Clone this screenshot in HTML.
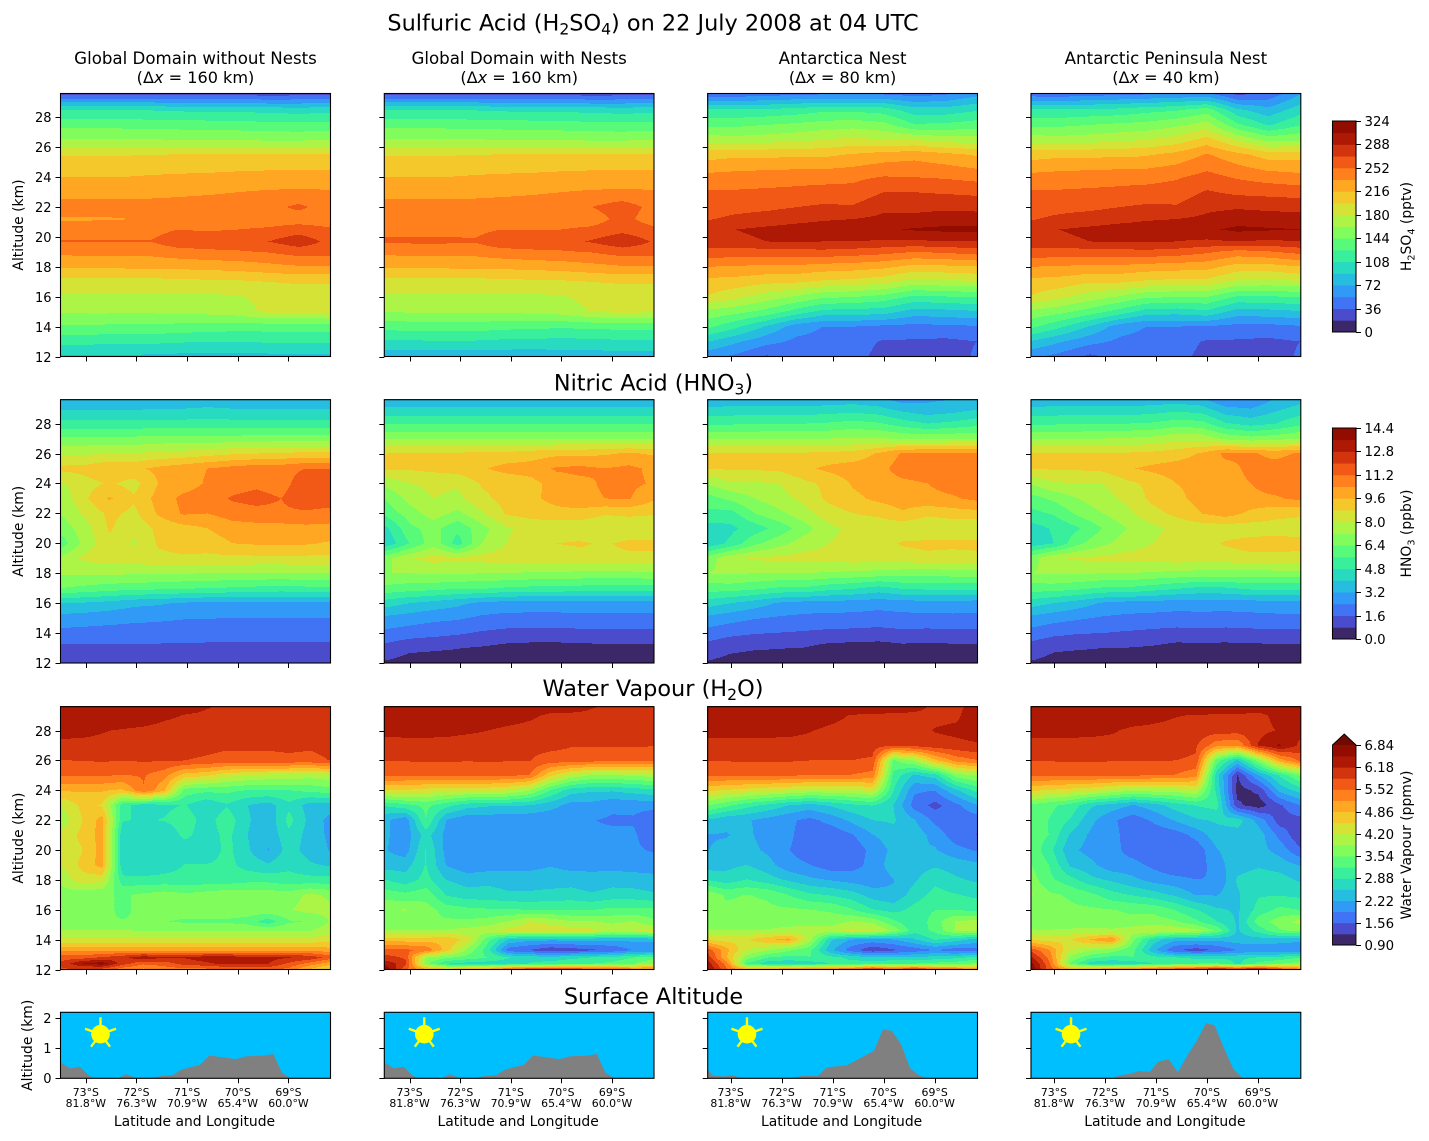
<!DOCTYPE html>
<html lang="en">
<head>
<meta charset="utf-8">
<title>Sulfuric Acid, Nitric Acid and Water Vapour cross-sections</title>
<style>
html,body{margin:0;padding:0;background:#fff;}
svg{display:block;}
text{font-family:"DejaVu Sans","Liberation Sans",sans-serif;fill:#000;}
</style>
</head>
<body>
<svg id="figure" xmlns="http://www.w3.org/2000/svg" width="1429" height="1141" viewBox="0 0 1429 1141">
<rect width="1429" height="1141" fill="#fff"/>
<text x="653" y="30.5" text-anchor="middle" font-size="22.4">Sulfuric Acid (H<tspan dy="4" font-size="15.6">2</tspan><tspan dy="-4">SO</tspan><tspan dy="4" font-size="15.6">4</tspan><tspan dy="-4">) on 22 July 2008 at 04 UTC</tspan></text>
<text x="653.5" y="390.5" text-anchor="middle" font-size="22.3">Nitric Acid (HNO<tspan dy="4" font-size="15.5">3</tspan><tspan dy="-4">)</tspan></text>
<text x="653" y="696" text-anchor="middle" font-size="22.4">Water Vapour (H<tspan dy="4" font-size="15.6">2</tspan><tspan dy="-4">O)</tspan></text>
<text x="653.5" y="1004" text-anchor="middle" font-size="22.3">Surface Altitude</text>
<g id="panels"></g>
<g id="colorbars"></g>
</svg>
<script>
const domainTitles = ['Global Domain without Nests','Global Domain with Nests','Antarctica Nest','Antarctic Peninsula Nest'];
const domainResolutions = ['160','160','80','40'];
const xTickLats = [73,72,71,70,69];
const latTickLabels = ['73°S','72°S','71°S','70°S','69°S'];
const lonTickLabels = ['81.8°W','76.3°W','70.9°W','65.4°W','60.0°W'];
const altTicks = [12,14,16,18,20,22,24,26,28];
const surfaceTicks = [0,1,2];

const levelsH2SO4 = [0,18,36,54,72,90,108,126,144,162,180,198,216,234,252,270,288,306,324];
const levelsHNO3 = [0,0.8,1.6,2.4,3.2,4,4.8,5.6,6.4,7.2,8,8.8,9.6,10.4,11.2,12,12.8,13.6,14.4];
const levelsH2O = [0.9,1.23,1.56,1.89,2.22,2.55,2.88,3.21,3.54,3.87,4.2,4.53,4.86,5.19,5.52,5.85,6.18,6.51,6.84];
const cbarTicksH2SO4 = [0,36,72,108,144,180,216,252,288,324];
const cbarTicksHNO3 = [0,1.6,3.2,4.8,6.4,8,9.6,11.2,12.8,14.4];
const cbarTicksH2O = [0.9,1.56,2.22,2.88,3.54,4.2,4.86,5.52,6.18,6.84];

const latsH2SO4 = [73.5,72.9,72.3,71.7,71.2,70.6,70,69.4,68.8,68.17];
const altsH2SO4 = [12,13,14,15,16,17,18,19,19.7,20.5,21.2,22,23,24,25.5,26.5,27.5,28.5,29.6];
const latsHNO3 = [73.5,73,72.53,72.05,71.57,71.08,70.6,70.1,69.63,69.14,68.66,68.17];
const altsHNO3 = [12,13,14,15,16,17,18,19,20,21,22,23,24,25,26,27,28,29,29.6];
const latsH2O = [73.5,73.09,72.68,72.27,71.86,71.45,71.04,70.63,70.22,69.81,69.4,68.99,68.58,68.17];
const altsH2O = [12,12.4,12.8,13.3,14,14.6,15.2,16,17,18,19,20,21,22,23,24,25,26,27,28,29,29.6];

const h2so4Global = [
[88,88,88,86,85,84,84,85,86,86],
[113,113,112,112,110,108,108,110,110,110],
[141,141,140,140,138,136,134,134,135,136],
[164,165,165,165,166,168,172,184,184,184],
[176,176,176,176,176,177,178,186,187,187],
[191,191,191,191,193,194,195,198,200,200],
[219,219,219,220,220,222,224,228,232,232],
[238,240,240,240,245,248,250,253,260,260],
[253,253,253,253,262,264,263,270,281,265],
[246,246,246,246,252,250,252,255,262,255],
[232,232,233,238,240,240,240,241,242,240],
[243,243,243,242,242,242,242,246,256,243],
[226,226,226,228,230,232,234,236,237,236],
[216,216,216,218,219,220,222,223,223,223],
[197,197,197,198,199,199,199,200,200,200],
[163,163,163,163,162,162,161,160,160,161],
[138,138,138,136,136,135,134,132,131,132],
[108,108,108,107,105,104,104,102,100,102],
[30,30,30,30,30,30,30,25,28,30]];
const h2so4GlobalNested = [
[78,78,78,78,78,78,80,80,82,82],
[104,106,106,106,104,103,102,103,105,105],
[133,134,135,135,132,130,129,130,132,132],
[163,164,164,164,165,167,170,181,184,182],
[176,176,176,176,176,177,178,186,187,187],
[191,191,191,191,193,194,195,198,200,200],
[219,219,219,220,220,222,224,228,232,232],
[238,240,240,240,245,248,250,253,260,260],
[255,255,255,254,264,265,264,272,284,268],
[246,247,247,247,252,251,252,256,264,256],
[238,238,238,238,240,241,242,243,258,243],
[243,243,243,242,242,242,243,252,262,246],
[226,226,226,228,230,232,234,236,237,236],
[216,216,216,218,219,220,222,223,223,223],
[197,197,197,198,199,199,199,200,200,200],
[163,163,163,163,162,162,161,160,160,161],
[138,138,138,136,136,135,134,132,131,132],
[108,108,108,107,105,104,104,102,100,102],
[30,30,30,30,30,30,30,25,28,30]];
const h2so4Antarctica = [
[60,50,34,40,44,42,30,30,28,38],
[92,75,60,50,48,44,34,34,32,36],
[132,112,88,62,54,54,50,48,50,52],
[158,150,138,118,102,100,98,82,84,88],
[198,185,172,160,148,145,138,122,125,128],
[210,208,202,200,195,192,186,172,175,178],
[234,232,230,230,226,224,220,210,212,215],
[266,262,262,263,265,262,258,252,255,260],
[278,284,288,290,288,288,286,285,288,288],
[280,288,292,296,297,298,303,308,310,310],
[268,274,278,282,286,288,292,294,298,298],
[262,264,266,270,273,272,284,282,284,282],
[254,254,255,256,258,258,270,270,268,266],
[240,242,244,246,246,248,253,252,250,246],
[208,212,212,212,212,218,224,228,222,214],
[172,170,172,176,180,185,180,180,172,170],
[140,140,144,148,152,155,150,128,130,135],
[110,110,112,116,122,122,118,98,98,106],
[40,40,44,48,50,50,50,45,50,65]];
const h2so4Peninsula = [
[58,48,32,42,42,42,30,30,28,38],
[90,74,60,50,48,44,34,34,32,36],
[132,112,88,62,54,54,52,48,48,52],
[158,150,136,118,100,98,104,82,84,88],
[198,185,172,160,148,145,145,124,124,128],
[210,208,200,200,195,192,192,176,174,178],
[234,232,230,230,226,224,222,208,208,215],
[266,262,262,263,265,262,255,245,250,258],
[278,284,288,290,290,288,285,288,285,288],
[280,288,292,296,297,298,303,310,308,306],
[268,274,278,282,286,288,292,298,296,296],
[262,264,266,270,273,272,284,286,284,282],
[254,254,255,256,258,260,272,266,264,262],
[240,242,244,246,246,250,258,250,244,240],
[208,212,212,212,214,222,236,222,208,208],
[172,170,172,176,180,188,205,178,156,160],
[140,140,144,148,150,158,170,130,106,125],
[110,110,112,114,120,124,136,94,78,100],
[42,40,44,48,50,54,56,30,40,70]];

const hno3Global = [
[1.2,1.1,1,0.78,0.78,0.78,0.8,1,1,1,1,1],
[1.4,1.4,1.42,1.45,1.45,1.45,1.42,1.42,1.42,1.42,1.42,1.42],
[2.15,2.1,2.05,2,1.95,1.9,1.9,1.9,1.9,1.9,1.9,1.9],
[2.9,2.8,2.7,2.6,2.55,2.45,2.42,2.4,2.4,2.4,2.4,2.4],
[4,3.9,3.7,3.4,3.3,3.1,3,3,3,3,3,3],
[6.4,6.2,6,5.9,5.8,5.7,5.6,5.5,5.4,5.3,5.4,5.4],
[7.3,7.3,7.35,7.3,7.3,7.25,7.2,7.2,7.15,7.15,7.2,7.2],
[7.4,8.2,8.4,8.4,8.6,8.7,8.6,8.6,8.6,8.6,8.6,8.6],
[5.9,7.6,8.6,7.9,8.9,9.1,9.2,9.6,9.7,9.7,9.7,9.5],
[6.7,7.7,8.9,8.2,9,9.3,9.6,10,10.1,10.1,10.2,10.2],
[7.2,8.2,9,8.6,9.7,10.5,10.4,10.8,10.9,11,11,10.8],
[7.4,8.7,9.7,8.9,9.9,10.6,10.8,11.3,11.5,11.2,12,11.8],
[7.9,8.5,8.9,8.5,9.6,10,10.5,10.8,11,10.8,11.8,11.7],
[9,9.1,9.5,9.4,9.8,10.1,10.4,10.7,10.9,10.9,11.2,11.2],
[7.9,7.9,8,8,8.2,8.3,8.5,8.7,8.8,8.9,9,9],
[6.6,6.6,6.6,6.6,6.7,6.7,6.7,6.7,6.8,6.8,6.8,6.8],
[5.1,5.1,5.1,5.1,5.1,5.1,5.1,5.1,5.1,5.1,5.1,5.1],
[3.9,3.9,3.9,3.9,4,4,4.1,4,4,4,4,4],
[3.3,3.3,3.3,3.3,3.4,3.4,3.5,3.4,3.4,3.4,3.4,3.4]];
const hno3GlobalNested = [
[0.7,0.5,0.5,0.5,0.4,0.4,0.4,0.4,0.4,0.4,0.4,0.4],
[1.35,0.95,0.88,0.82,0.72,0.55,0.5,0.5,0.5,0.6,0.58,0.55],
[2.2,2,1.85,1.7,1.5,1.35,1.3,1.3,1.35,1.4,1.4,1.4],
[3,2.8,2.6,2.5,2.25,2.15,2.15,2.15,2.2,2.2,2.2,2.2],
[4.4,4,3.7,3.4,3,2.85,2.8,2.8,2.8,2.8,2.8,2.8],
[6.2,6,5.9,5.7,5.7,5.5,5.4,5.4,5.3,5.2,5.2,5.2],
[7.2,7.2,7.3,7.3,7.2,7.2,7.1,7.1,7,7,7,7.1],
[6.9,7.9,8.3,8.2,8.3,8.4,8.4,8.5,8.5,8.6,8.6,8.6],
[4.1,5.6,6.9,5.2,7.2,8,8.4,8.8,8.9,8.7,9,9],
[4.5,6.2,6.7,5.8,6.9,7.9,8.3,8.2,8.2,8,8.1,8],
[5.8,6.8,7.6,7,7.9,8.9,9.1,9.3,9.3,8.9,9,8.9],
[6.4,7.5,8,7.8,8.6,9.1,9.4,9.9,10.2,10.4,10.45,9.7],
[7.4,8,8.2,8.1,8.9,9,9.3,10,10.2,10.5,10.6,10.3],
[8.9,8.9,9,9.2,9.5,9.9,10,10.5,10.6,10.4,10.6,10.2],
[8.8,8.85,8.9,8.9,9,9,9.2,9.4,9.4,9.5,9.7,9.5],
[7.1,7.1,7.1,7.1,7.1,7.1,7.1,7.1,7.1,7.1,7.1,7.1],
[5.6,5.6,5.6,5.6,5.6,5.6,5.6,5.6,5.6,5.6,5.6,5.6],
[4.1,4.1,4.1,4.1,4.1,4.1,4.1,4.1,4.1,4.1,4.1,4.1],
[3.5,3.5,3.5,3.5,3.5,3.5,3.5,3.5,3.5,3.5,3.5,3.5]];
const hno3Antarctica = [
[0.75,0.55,0.5,0.5,0.4,0.4,0.4,0.4,0.4,0.4,0.4,0.4],
[1.25,0.95,0.85,0.82,0.78,0.5,0.45,0.4,0.55,0.5,0.55,0.55],
[2.1,1.8,1.65,1.58,1.5,1.4,1.35,1.3,1.4,1.35,1.4,1.4],
[3,2.7,2.45,2.3,2.2,2.15,2.15,2.05,2.15,2.15,2.2,2.2],
[4.4,4,3.6,3.1,2.9,2.85,2.8,2.7,2.8,2.85,2.85,2.8],
[6,6,5.8,5.5,5.5,5.1,4.9,4.5,4.9,5,5,5],
[7.2,7.3,7.2,7.2,7.2,7.1,7,6.9,6.8,6.7,6.8,6.9],
[6.7,7.8,8.1,8.2,8.3,8.3,8.4,8.4,8.4,8.6,8.5,8.6],
[4.1,5,6.2,6.9,7.6,8,8.2,8.5,8.9,9,9,9],
[4.4,4.6,5.2,5.9,6.8,7.8,8.2,8.2,8.2,8,8.1,8],
[5.4,5.3,6.4,7,7.7,8.4,8.8,9,9.5,9,9.2,9.3],
[6,6.6,7.2,7.7,8.2,9,9.4,9.8,10,10.2,10.3,10.6],
[7.2,7.9,7.9,8,8.6,9,9.7,10,10.2,10.4,10.7,10.6],
[8.8,8.9,8.9,9,9.4,9.8,10,10.1,10.8,10.9,10.9,10.9],
[8.8,8.9,8.9,8.9,8.9,9,9.1,9.7,10.5,10.6,10.6,10.6],
[7.1,7.1,7.1,7.2,7.2,7.2,7.3,7.3,7.1,7,7.1,7.1],
[5.5,5.5,5.6,5.6,5.6,5.7,5.9,5.7,5.2,4.8,5,5.3],
[4.1,4.2,4.2,4.2,4.2,4.3,4.4,4.2,3.7,3.4,3.6,3.9],
[3.4,3.5,3.5,3.5,3.5,3.5,3.6,3.4,2.9,3.1,3.2,3.4]];
const hno3Peninsula = [
[0.75,0.55,0.5,0.5,0.4,0.4,0.4,0.4,0.4,0.4,0.4,0.4],
[1.25,0.9,0.85,0.8,0.78,0.7,0.5,0.5,0.5,0.55,0.55,0.55],
[2.1,1.8,1.65,1.6,1.5,1.4,1.3,1.35,1.3,1.35,1.4,1.4],
[3,2.7,2.5,2.3,2.2,2.15,2.1,2.1,2.1,2.15,2.2,2.2],
[4.4,4,3.6,3.1,2.9,2.85,2.75,2.8,2.75,2.8,2.85,2.85],
[6,6,5.8,5.5,5.5,5.2,4.9,4.6,4.7,5,5,5],
[7.2,7.3,7.3,7.2,7.2,7.1,7,6.9,6.9,6.8,6.9,6.9],
[6.7,7.9,8.1,8.2,8.3,8.3,8.4,8.4,8.4,8.6,8.6,8.6],
[4.2,4.8,6.2,7,7.6,8,8.3,8.5,8.9,9.1,9.1,9],
[4.4,4.9,5.5,6.4,7.2,7.8,8.2,8.3,8.3,8.4,8.5,8.5],
[5.3,5.7,6.6,7.2,7.8,8.5,9,9.6,10,9.4,9,8.9],
[6,6.6,7.2,7.7,8.2,9,9.4,9.9,10.2,10.2,10.3,10.6],
[7.2,7.9,8,8,8.6,9,9.6,9.8,10.1,10.4,10.8,10.7],
[8.8,8.9,8.9,9,9.5,9.8,10,10.1,10.1,10.6,10.7,10.8],
[8.8,8.9,8.9,8.9,8.9,9,9.2,9.7,10.6,10.5,10.2,10.5],
[7.1,7.1,7.1,7.2,7.3,7.4,7.8,7.7,7,6.7,6.9,7.2],
[5.5,5.5,5.6,5.6,5.6,5.7,6,5.9,4.9,4.5,4.8,5.4],
[4.1,4.2,4.2,4.2,4.2,4.3,4.5,4.3,3.4,3.2,3.8,4.3],
[3.4,3.5,3.5,3.5,3.5,3.5,3.6,3.4,2.4,2.5,3.3,3.7]];

const h2oGlobal = [
[5.8,5.8,5.7,5.3,5.1,5.3,5.4,5.4,5.5,5.4,5.6,5.4,4.8,4.4],
[5.9,6.5,6.7,6,5.6,5.7,6,6.1,6.3,6.3,6.2,5.8,5.4,5],
[5.7,5.7,5.9,6.1,6.4,6.2,6.2,6.4,6.4,6.3,6.3,6.2,6.1,5.7],
[5.1,5.1,5.1,5.1,5.1,5.1,5.1,5.1,5.1,5.1,5.1,5.1,5.1,5],
[4.3,4.3,4.3,4.3,4.3,4.3,4.3,4.3,4.3,4.3,4.3,4.3,4.3,4.4],
[3.9,3.9,3.9,3.9,3.85,3.85,3.85,3.85,3.85,3.85,3.85,3.85,3.85,4.1],
[3.55,3.55,3.55,3.55,3.55,3.55,3.5,3.5,3.5,3.4,3,3.5,3.55,3.9],
[3.9,3.7,3.6,3.5,3.6,3.65,3.65,3.7,3.7,3.75,3.8,3.85,4,3.95],
[3.7,3.65,3.6,3.5,3.6,3.7,3.6,3.7,3.8,3.75,3.75,3.7,3.95,3.8],
[3.95,4.4,4.3,3,3,3,3,3,3,3.1,3.1,3,3,3],
[4.2,4.6,5,2.6,2.55,2.7,2.9,2.9,3,2.75,2.6,2.8,2.6,2.5],
[4.4,4.5,5,2.6,2.55,2.6,2.6,2.55,3,2.6,2.2,2.7,2.4,2.2],
[4.3,4.6,5,2.6,2.7,2.55,3,2.65,3,2.55,2.3,2.8,2.4,2.15],
[3.95,4.5,5,2.9,2.85,2.9,3.1,2.7,3.1,2.6,2.3,3,2.45,2.1],
[4.2,4.6,4.5,3,2.7,2.8,2.9,2.6,2.85,2.55,2.4,2.8,2.4,2.4],
[4.9,4.9,4.9,4.8,5.5,4.9,3.4,3.3,3.3,3.2,3.2,3.2,3.3,3.4],
[5.55,5.55,5.55,5.5,5.55,5.3,4.7,4.6,4.3,4.2,4.1,4.1,4,4.1],
[5.84,5.86,5.88,5.86,5.88,5.88,5.85,5.8,5.75,5.75,5.75,5.75,5.75,5.86],
[6.1,6.1,6.1,6.1,6.05,6.05,6,5.95,5.9,5.9,5.9,5.95,5.9,5.95],
[6.28,6.26,6.2,6.15,6.1,6.05,6.05,6.05,6,6,6,6,6,6],
[6.44,6.44,6.44,6.44,6.4,6.25,6.16,6.14,6.12,6.1,6.1,6.1,6.1,6.1],
[6.5,6.5,6.5,6.5,6.45,6.4,6.3,6.2,6.14,6.12,6.12,6.12,6.1,6.1]];
const h2oGlobalNested = [
[6.9,5.6,5,4.8,5,5.2,5.9,6.1,6.1,6.1,5.9,5.8,5.5,5.4],
[6.4,6,3.7,2.9,2.75,2.7,2.7,2.9,3,3.1,3.2,3.3,3.5,3.9],
[6,5.8,3.9,3.6,3.4,3.2,2.9,2.75,2.7,2.8,2.9,3,3.2,3.4],
[5.6,5.6,5.45,4.7,3.8,3,1.7,1.55,1.3,1.4,1.5,1.6,1.9,1.9],
[4.7,4.7,4.7,4.8,4.4,3.3,2.5,2.3,2.3,2.3,2.3,2.3,2.3,2.3],
[3.9,3.9,3.9,3.9,4,4.1,4.3,4.4,4.4,4.4,4.3,4.1,4.2,4.3],
[3.6,3.6,3.6,3.6,3.6,3.7,3.9,4.2,4.1,3.9,3.9,3.8,3.9,3.6],
[3.8,3.9,3.7,3.4,3.3,3.25,3.25,3.2,3.2,3.2,3.2,3.3,3.3,3.3],
[3.4,3.3,3.4,2.85,2.7,2.7,2.6,2.6,2.65,2.7,2.6,2.7,2.7,2.6],
[2.9,2.7,3,2.55,2.4,2.45,2.4,2.4,2.4,2.4,2.3,2.4,2.35,2.3],
[2.4,2.4,2.9,2.2,2,2.05,2.1,2.1,2.2,2.1,2.15,2.1,2.1,2.1],
[2.25,2.05,2.9,2.1,1.95,1.95,1.9,1.95,1.95,2,2.1,2.05,1.95,1.85],
[2.3,2,2.7,2.1,1.95,1.95,1.95,1.95,1.95,1.95,1.95,1.95,1.95,1.65],
[2.3,2,3.2,2.2,1.95,2,1.95,1.95,1.95,2.05,1.9,1.85,1.85,1.65],
[2.9,3.1,3.3,3,2.7,2.6,2.6,2.55,2.35,2.1,2.1,1.95,1.98,2],
[4.5,4.5,4.4,4.3,4.3,4.3,4.2,3.9,3.2,2.7,2.6,2.6,2.7,2.8],
[5.55,5.55,5.55,5.55,5.55,5.55,5.55,5.5,4.6,4.1,3.85,3.85,3.9,4],
[5.85,5.87,5.88,5.88,5.87,5.88,5.87,5.86,5.7,5.7,5.65,5.6,5.6,5.55],
[6,6.05,6.05,6.05,6,6,6,5.95,5.95,5.87,5.87,5.87,5.87,5.87],
[6.3,6.3,6.3,6.28,6.24,6.18,6.1,6.05,6,6,6,6,6,6],
[6.45,6.45,6.45,6.45,6.45,6.4,6.35,6.25,6.12,6.12,6.12,6.1,6.1,6.1],
[6.5,6.5,6.5,6.5,6.5,6.45,6.4,6.4,6.35,6.3,6.2,6.14,6.12,6.1]];
const h2oAntarctica = [
[6.7,5.6,5,5.2,5.4,5.5,5.6,5.7,6.3,5.7,6.3,5.7,5.6,5.4],
[6.5,5.4,3.2,2.7,2.6,2.7,2.9,3,3.1,3.2,3.2,3.3,3.4,3.6],
[6.2,4.9,3.7,3.2,3.1,3.2,3,2.8,2.6,2.6,2.6,2.7,2.8,3],
[5.8,5,4.2,3.9,3.6,3.3,2.3,1.7,1.3,1.5,1.7,1.9,1.7,1.8],
[4.5,4.4,4.5,4.8,5,4,2.6,2.2,2.1,2.2,2.5,2.9,2.7,2.4],
[3.9,3.9,3.9,3.9,4,4.1,4.1,4.3,4.3,3.8,3,3.3,3.9,3.9],
[3.7,3.6,3.6,3.7,3.7,3.7,3.7,3.9,3.8,3.3,2.9,3.4,3.9,4],
[3.75,3.6,3.6,3.6,3.6,3.55,3.5,3.25,2.9,2.75,3,3.2,3.2,3.1],
[3.8,3.5,3.55,3.5,3.2,2.95,2.85,2.7,2.4,2.3,2.7,3,2.9,2.8],
[2.9,2.7,2.9,2.7,2.5,2.3,2.2,2.1,2,2.2,2.5,2.8,2.6,2.5],
[2.35,2.45,2.55,2.35,2,1.9,1.7,1.75,2,2.4,2.4,2.5,2.4,2.3],
[2.2,2.3,2.35,2.15,1.9,1.7,1.6,1.65,2,2.3,2.25,2.25,2,1.85],
[2.2,2.2,2.3,2.05,1.95,1.7,1.65,1.85,2.2,2.4,2.4,2.1,1.7,1.55],
[2.55,2.3,2.25,2.1,1.95,1.8,2,2.3,2.55,2.6,2.25,1.8,1.6,1.7],
[3.6,3.3,3,2.8,2.55,2.4,2.6,2.8,2.9,2.55,1.75,1.45,1.8,2.2],
[4.6,4.5,4.4,4.3,4.2,4.1,4.1,4.1,4.3,2.9,1.95,1.9,2.5,3],
[5.55,5.55,5.55,5.55,5.55,5.5,5.5,5.5,5.4,3.1,2.5,2.7,3.7,3.9],
[5.85,5.87,5.88,5.88,5.88,5.85,5.85,5.85,5.8,3.5,3.9,4.8,5.3,5.5],
[6.05,6.05,6.05,6.05,6.05,6.05,6.05,6,6,5.9,5.95,6.05,6.1,6.15],
[6.3,6.3,6.3,6.3,6.28,6.2,6.1,6.05,6.05,6.05,6.05,6.2,6.25,6.3],
[6.45,6.45,6.45,6.45,6.45,6.4,6.3,6.15,6.12,6.12,6.1,6.1,6.12,6.4],
[6.5,6.5,6.5,6.5,6.5,6.5,6.5,6.45,6.4,6.35,6.3,6.1,6.1,6.3]];
const h2oPeninsula = [
[6.9,5.7,5,5.2,5.4,5.6,5.8,6,6.2,6.5,6.3,6.6,6,5.4],
[6.8,5.6,3.5,2.7,2.6,2.7,2.9,3.1,3.2,3.3,2.8,3.3,3.5,3.7],
[6.4,5.4,3.8,3.3,3.1,3.2,3,2.9,2.8,2.8,2.8,2.9,3,3.2],
[5.8,5.2,4.2,3.9,3.7,3.3,2.3,1.6,1.4,1.6,1.9,2,1.9,1.9],
[4.5,4.4,4.5,4.9,5.2,3.6,2.7,2.3,2.3,2.3,2.4,2.4,2.4,2.3],
[3.9,3.9,3.95,4,3.95,4.1,4.2,4.1,4,3.5,2.5,3,3.5,3.6],
[3.7,3.6,3.6,3.6,3.6,3.6,3.7,3.6,3.3,2.9,2.5,3.4,3.7,4],
[3.8,3.6,3.6,3.6,3.55,3.5,3.45,3.2,2.9,2.6,2.5,3,3.3,3.2],
[3.95,3.6,3.5,3.3,3,2.85,2.7,2.5,2.2,2.2,2.5,2.85,2.85,2.8],
[3.75,3.3,3,2.65,2.5,2.3,2.1,2,1.9,1.9,2.6,2.75,2.7,2.5],
[3.6,3.2,2.5,2.3,2,2,1.8,1.6,1.65,2.1,2.4,2.5,2.4,2.2],
[3.5,3,2.3,2.1,2,1.75,1.65,1.6,1.65,2.2,2.4,2.35,2.1,1.6],
[3.45,3.2,2.5,2.15,2,1.7,1.65,1.7,2,2.4,2.4,2.4,1.8,1.3],
[3.4,3.2,2.85,2.3,1.95,1.7,1.95,2.25,2.5,2.6,2.7,2.1,1.4,1.45],
[3.5,3.3,3.1,2.6,2.4,2.2,2.4,2.7,2.9,3,1.3,1.05,1.5,1.9],
[4.6,4.5,4.4,4.3,4.1,3.9,4,4,4.2,2.8,1.1,1.3,2.3,2.7],
[5.55,5.55,5.55,5.55,5.55,5.55,5.5,5.5,5.3,2.7,1.2,2.2,2.9,3.6],
[5.85,5.87,5.88,5.88,5.87,5.86,5.86,5.85,5.8,3.4,2.5,3.7,5,5.6],
[6.05,6.05,6.05,6.05,6.05,6.05,6.05,6,5.9,5.3,5.2,6.2,6.55,6.1],
[6.3,6.3,6.3,6.28,6.22,6.1,6.08,6.05,6.05,6,6,6.1,6.2,6.3],
[6.45,6.45,6.45,6.45,6.45,6.4,6.3,6.2,6.15,6.14,6.14,6.12,6.25,6.3],
[6.5,6.5,6.5,6.5,6.5,6.5,6.5,6.5,6.45,6.4,6.35,6.3,6.3,6.3]];

const terrainLatsGlobal = [73.49,73.31,73.12,72.94,72.82,72.36,72.21,72.01,71.7,71.49,71.28,71.12,70.95,70.75,70.56,70.04,69.84,69.46,69.3,69.13,68.97,68.18];
const terrainAltsGlobal = [0.52,0.33,0.39,0.09,0,0,0.14,0.01,0.02,0.08,0.11,0.28,0.37,0.44,0.76,0.64,0.73,0.76,0.81,0.19,0.02,0];
const terrainLatsNest = [73.51,73.34,73.14,72.96,72.79,71.85,71.58,71.29,71.11,70.72,70.41,70.19,70.01,69.84,69.66,69.48,69.31,69.16,68.16];
const terrainAltsNest = [0.28,0.09,0.06,0.11,0,0,0.08,0.08,0.37,0.43,0.72,0.92,1.64,1.58,1.14,0.33,0.1,0,0];
const terrainLatsPeninsula = [73.52,73.33,72.55,71.84,71.73,71.49,71.34,71.12,70.95,70.75,70.57,70.36,70.19,70.02,69.85,69.68,69.48,69.3,68.17];
const terrainAltsPeninsula = [0.04,0,0.01,0,0.09,0.16,0.24,0.22,0.56,0.63,0.2,0.83,1.28,1.84,1.77,1.06,0.3,0,0];
const sunLats = [72.71,72.71,72.68,72.665];
const sunAlt = 1.47;

const SVGNS = 'http://www.w3.org/2000/svg';
const panelsRoot = document.getElementById('panels');
const cbarRoot = document.getElementById('colorbars');
const columnX = [[60.5,330.5],[384.3,654],[707.7,977.5],[1031,1300.8]];
const columnLat = [[73.5,68.17],[73.5,68.17],[73.45,68.16],[73.45,68.16]];

function make(tag, attrs, parent, txt){
  const n = document.createElementNS(SVGNS, tag);
  for (const k in attrs) n.setAttribute(k, attrs[k]);
  if (txt !== undefined) n.textContent = txt;
  parent.appendChild(n);
  return n;
}
function turbo(x){
  const r = 0.13572138+x*(4.6153926+x*(-42.66032258+x*(132.13108234+x*(-152.94239396+x*59.28637943))));
  const g = 0.09140261+x*(2.19418839+x*(4.84296658+x*(-14.18503333+x*(4.27729857+x*2.82956604))));
  const b = 0.1066733+x*(12.64194608+x*(-60.58204836+x*(110.36276771+x*(-89.90310912+x*27.34824973))));
  const c = v => Math.max(0, Math.min(255, Math.round(v*255)));
  return 'rgb('+c(r)+','+c(g)+','+c(b)+')';
}
function bandColor(i, n){
  return i >= n ? '#6e0a02' : turbo((i+0.5)/n);
}
function xScale(col, lat){
  const [a,b] = columnX[col], [l0,l1] = columnLat[col];
  return a + (l0-lat)/(l0-l1)*(b-a);
}
function altScale(top, bottom, lo, hi, alt){
  return bottom - (alt-lo)/(hi-lo)*(bottom-top);
}
function bracket(arr, v, descending){
  let i = 0;
  const last = arr.length-2;
  if (descending) { while (i < last && arr[i+1] >= v) i++; }
  else { while (i < last && arr[i+1] <= v) i++; }
  return i;
}
function drawAxesFrame(g, col, top, bottom, yTicks, lo, hi, withYLabels, yName, yLabelX){
  const [a,b] = columnX[col];
  xTickLats.forEach(function(lat){
    const x = Math.round(xScale(col, lat))+0.5;
    const t = make('line',{x1:x,x2:x,y1:bottom,y2:bottom+5,stroke:'#000','stroke-width':1},g);
    
    
  });
  yTicks.forEach(function(v){
    const y = Math.round(altScale(top,bottom,lo,hi,v))+0.5;
    const t = make('line',{x1:a-5,x2:a,y1:y,y2:y,stroke:'#000','stroke-width':1},g);
    
    
    if (withYLabels){
      const l = make('text',{x:a-9,y:y+4.5,'text-anchor':'end','font-size':13},g,String(v));
      
      
    }
  });
  if (withYLabels){
    const cy = (top+bottom)/2;
    const l = make('text',{x:0,y:0,'text-anchor':'middle','font-size':13.9,transform:'translate('+yLabelX+','+cy+') rotate(-90)'},g,'Altitude (km)');
    
    
  }
  const f = make('rect',{x:a,y:top,width:b-a,height:bottom-top,fill:'none',stroke:'#000','stroke-width':1.1},g);
  
  
}
function drawField(g, col, top, bottom, lats, alts, grid, levels, extendMax){
  const [a,b] = columnX[col];
  const n = levels.length-1, vmin = levels[0], step = levels[1]-levels[0];
  const lo = 12, hi = 29.6;
  const px0 = Math.floor(a), px1 = Math.ceil(b), py0 = Math.floor(top), py1 = Math.ceil(bottom);
  const paths = {};
  const rowVals = new Array(lats.length);
  for (let py = py0; py < py1; py++){
    const alt = Math.max(lo, Math.min(hi, lo + (bottom-(py+0.5))/(bottom-top)*(hi-lo)));
    const ir = bracket(alts, alt, false);
    const tr = (alt-alts[ir])/(alts[ir+1]-alts[ir]);
    for (let c = 0; c < lats.length; c++) rowVals[c] = grid[ir][c]*(1-tr)+grid[ir+1][c]*tr;
    let runStart = px0, runBand = -1;
    for (let px = px0; px <= px1; px++){
      let band = -2;
      if (px < px1){
        const lat = columnLat[col][0] - (px+0.5-a)/(b-a)*(columnLat[col][0]-columnLat[col][1]);
        const ic = bracket(lats, lat, true);
        const tc = Math.max(0, Math.min(1, (lats[ic]-lat)/(lats[ic]-lats[ic+1])));
        const v = rowVals[ic]*(1-tc)+rowVals[ic+1]*tc;
        band = Math.floor((v-vmin)/step);
        if (band < 0) band = 0;
        if (band >= n) band = extendMax ? n : n-1;
      }
      if (band !== runBand){
        if (runBand >= 0){
          paths[runBand] = (paths[runBand]||'') + 'M'+runStart+' '+py+'h'+(px-runStart)+'v1h'+(runStart-px)+'z';
        }
        runBand = band; runStart = px;
      }
    }
  }
  Object.keys(paths).forEach(function(k){
    const p = make('path',{d:paths[k],fill:bandColor(+k,n),'shape-rendering':'crispEdges'},g);
    
    
  });
}
function drawColorbar(name, label, levels, ticks, digits, top, bottom, extendMax){
  const g = make('g',{},cbarRoot);
  
  
  const x0 = 1332.5, x1 = 1356;
  const n = levels.length-1;
  const sc = v => bottom-(v-levels[0])/(levels[n]-levels[0])*(bottom-top);
  for (let i = 0; i < n; i++){
    const r = make('rect',{x:x0,y:sc(levels[i+1]),width:x1-x0,height:sc(levels[i])-sc(levels[i+1])+0.4,fill:bandColor(i,n)},g);
    
    
  }
  let outline = 'M'+x0+' '+bottom+'L'+x0+' '+top;
  if (extendMax){
    const cap = make('path',{d:'M'+x0+' '+top+'L'+((x0+x1)/2)+' '+(top-11)+'L'+x1+' '+top+'z',fill:bandColor(n,n)},g);
    
    
    outline += 'L'+((x0+x1)/2)+' '+(top-11);
  }
  outline += 'L'+x1+' '+top+'L'+x1+' '+bottom+'z';
  const o = make('path',{d:outline,fill:'none',stroke:'#000','stroke-width':extendMax?0.9:1.1},g);
  
  
  ticks.forEach(function(v){
    const y = Math.round(sc(v))+0.5;
    const t = make('line',{x1:x1,x2:x1+5,y1:y,y2:y,stroke:'#000','stroke-width':1},g);
    
    
    const l = make('text',{x:x1+8.5,y:y+4.5,'font-size':13.3},g,v.toFixed(digits));
    
    
  });
  const cy = (top+bottom)/2;
  const lab = make('text',{x:0,y:0,'text-anchor':'middle','font-size':13.9,transform:'translate(1411,'+cy+') rotate(-90)'},g);
  
  
  label.forEach(function(part){
    const ts = make('tspan',part.sub?{dy:3.5,'font-size':9.7}:{dy:part.after?-3.5:0},lab,part.t);
    
    
  });
}

const fieldRows = [
  {name:'h2so4',top:93.5,bottom:356.5,lats:latsH2SO4,alts:altsH2SO4,levels:levelsH2SO4,extend:false,grids:[h2so4Global,h2so4GlobalNested,h2so4Antarctica,h2so4Peninsula]},
  {name:'hno3',top:399.7,bottom:663,lats:latsHNO3,alts:altsHNO3,levels:levelsHNO3,extend:false,grids:[hno3Global,hno3GlobalNested,hno3Antarctica,hno3Peninsula]},
  {name:'h2o',top:706.7,bottom:969.5,lats:latsH2O,alts:altsH2O,levels:levelsH2O,extend:true,grids:[h2oGlobal,h2oGlobalNested,h2oAntarctica,h2oPeninsula]}
];
fieldRows.forEach(function(row){
  row.grids.forEach(function(grid, col){
    const g = make('g',{},panelsRoot);
    
    
    drawField(g,col,row.top,row.bottom,row.lats,row.alts,grid,row.levels,row.extend);
    drawAxesFrame(g,col,row.top,row.bottom,altTicks,12,29.6,col===0,row.name+'-y-axis-title',23);
  });
});

domainTitles.forEach(function(title,col){
  const cx = (columnX[col][0]+columnX[col][1])/2;
  const t1 = make('text',{x:cx,y:64,'text-anchor':'middle','font-size':16.65},panelsRoot,title);
  
  
  const t2 = make('text',{x:cx,y:83,'text-anchor':'middle','font-size':16.1},panelsRoot);
  
  
  const s1 = make('tspan',{},t2,'(Δ');
  
  
  const s2 = make('tspan',{'font-style':'italic'},t2,'x');
  
  
  const s3 = make('tspan',{},t2,' = '+domainResolutions[col]+' km)');
  
  
});

const terrainSets = [
  [terrainLatsGlobal,terrainAltsGlobal],
  [terrainLatsGlobal,terrainAltsGlobal],
  [terrainLatsNest,terrainAltsNest],
  [terrainLatsPeninsula,terrainAltsPeninsula]
];
const surfTop = 1012.3, surfBottom = 1078.3;
const surfY = v => altScale(surfTop,surfBottom,0,2.2,v);
terrainSets.forEach(function(set,col){
  const g = make('g',{},panelsRoot);
  
  
  const [a,b] = columnX[col];
  const sky = make('rect',{x:a,y:surfTop,width:b-a,height:surfBottom-surfTop,fill:'#00bfff'},g);
  
  
  let d = 'M'+a+' '+surfBottom;
  set[0].forEach(function(lat,i){
    const x = Math.max(a,Math.min(b,xScale(col,lat)));
    d += 'L'+x.toFixed(1)+' '+surfY(set[1][i]).toFixed(1);
  });
  d += 'L'+b+' '+surfBottom+'z';
  const terr = make('path',{d:d,fill:'#808080'},g);
  
  
  const sx = xScale(col,sunLats[col]), sy = surfY(sunAlt);
  const sun = make('g',{},g);
  
  
  const ray = make('path',{d:'M'+sx+' '+sy+'v-17M'+sx+' '+sy+'l-15.5 -5.5M'+sx+' '+sy+'l15.5 -5.5M'+sx+' '+sy+'l-9.5 12.5M'+sx+' '+sy+'l9.5 12.5',stroke:'#ffff00','stroke-width':2.4,fill:'none'},sun);
  
  
  const disc = make('circle',{cx:sx,cy:sy,r:9.3,fill:'#ffff00'},sun);
  
  
  drawAxesFrame(g,col,surfTop,surfBottom,surfaceTicks,0,2.2,col===0,'surface-y-axis-title',32);
  xTickLats.forEach(function(lat,i){
    const x = xScale(col,lat);
    const l1 = make('text',{x:x,y:1096,'text-anchor':'middle','font-size':10.9},g,latTickLabels[i]);
    
    
    const l2 = make('text',{x:x,y:1107,'text-anchor':'middle','font-size':10.9},g,lonTickLabels[i]);
    
    
  });
  const xl = make('text',{x:(a+b)/2-1,y:1126,'text-anchor':'middle','font-size':13.9},g,'Latitude and Longitude');
  
  
});

drawColorbar('h2so4-colorbar',[{t:'H'},{t:'2',sub:true},{t:'SO',after:true},{t:'4',sub:true},{t:' (pptv)',after:true}],levelsH2SO4,cbarTicksH2SO4,0,121,332,false);
drawColorbar('hno3-colorbar',[{t:'HNO'},{t:'3',sub:true},{t:' (ppbv)',after:true}],levelsHNO3,cbarTicksHNO3,1,428,639,false);
drawColorbar('h2o-colorbar',[{t:'Water Vapour (ppmv)'}],levelsH2O,cbarTicksH2O,2,745,945,true);
</script>
</body>
</html>
